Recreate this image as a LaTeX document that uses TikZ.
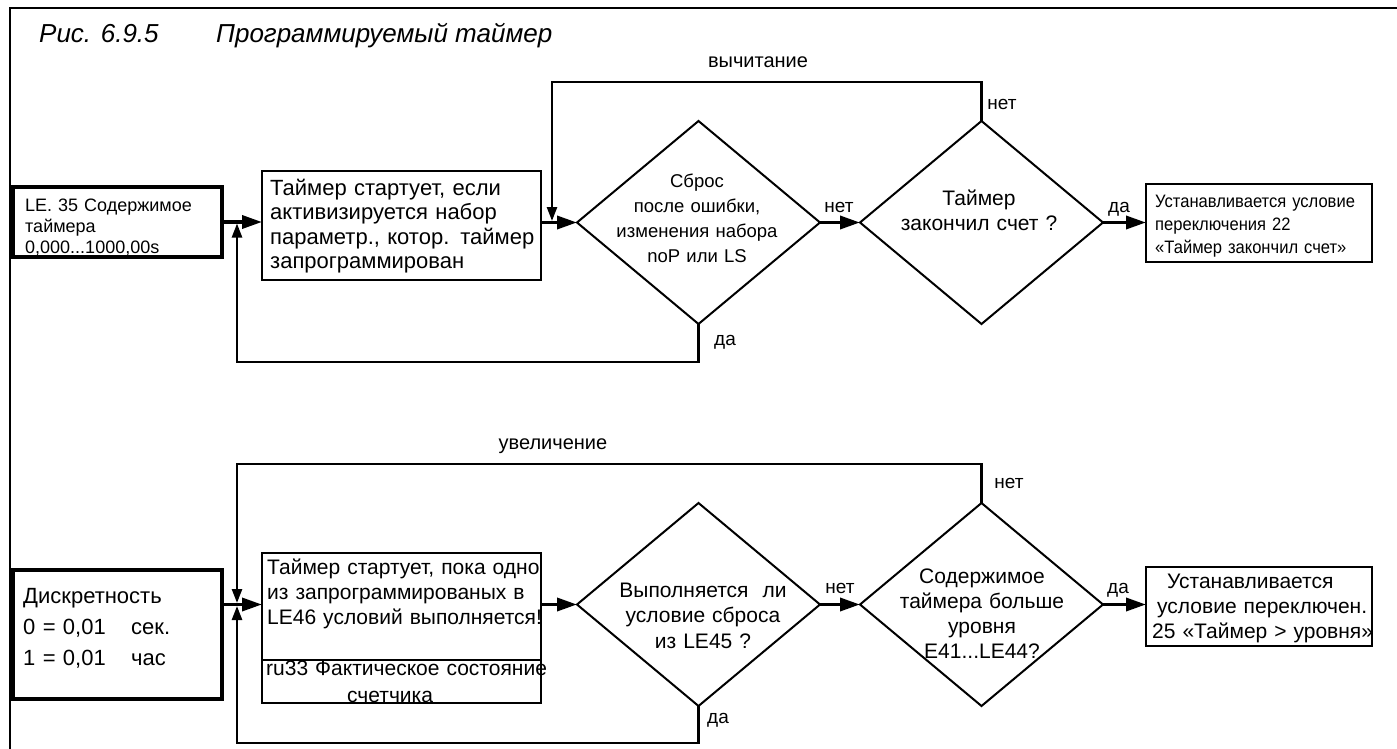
\documentclass[tikz,border=0pt]{standalone}
\usepackage{fontspec}
\setmainfont{Liberation Sans}
\newfontfamily\condfont[FakeStretch=0.92]{Liberation Sans}
\usetikzlibrary{shapes.geometric,arrows.meta}
\begin{document}
\begin{tikzpicture}[x=1pt,y=-1pt,
  frame/.style={line width=2.5pt},
  boxshape/.style={draw,line width=2.6pt,inner sep=0pt,outer sep=0pt},
  thickbox/.style={boxshape,line width=3.2pt},
  dia/.style={draw,diamond,line width=2pt,inner sep=0pt,outer sep=0pt,minimum width=243pt,minimum height=203pt},
  arr/.style={line width=3.5pt,-{Triangle[length=20pt,width=13pt]}},
  farr/.style={line width=2.5pt,-{Triangle[length=14pt,width=10pt]},shorten >=1.5pt},
  txt/.style={inner sep=0pt,anchor=base west,text width=320pt,align=left},
  ctxt/.style={inner sep=0pt,anchor=base,text width=260pt,align=center},
  lbl/.style={inner sep=0pt,anchor=base,font=\fontsize{19}{22}\selectfont},
  biglbl/.style={lbl,font=\fontsize{20}{24}\selectfont},
  ttl/.style={inner sep=0pt,anchor=base west,font=\itshape\fontsize{26}{30}\selectfont}
]
\useasboundingbox (0,0) rectangle (1397,749);
\draw[frame] (10,749) -- (10,8) -- (1397,8);

\node[ttl] (tnum) at (39,43) {Рис. 6.9.5};
\node[ttl] (tname) at (216,43) {Программируемый таймер};

% ---------- top row ----------
\node[thickbox,minimum width=209pt,minimum height=70pt] (A) at (117.5,222) {};
\node[txt,font=\fontsize{18}{21}\selectfont] (At) at (25,211) {LE. 35 Содержимое\\таймера\\0,000...1000,00s};
\node[boxshape,minimum width=279pt,minimum height=109pt] (B) at (401.5,225.5) {};
\node[txt,font=\fontsize{22}{24.5}\selectfont] (Bt) at (270,195) {Таймер стартует, если\\активизируется набор\\параметр., котор. таймер\\запрограммирован};
\node[dia] (d1) at (698.5,222.5) {};
\node[ctxt,font=\fontsize{18.5}{25}\selectfont] (d1t) at (697,187) {Сброс\\после ошибки,\\изменения набора\\noP или LS};
\node[dia] (d2) at (981.5,222.5) {};
\node[ctxt,font=\fontsize{21}{25}\selectfont] (d2t) at (979,205) {Таймер\\закончил счет ?};
\node[boxshape,minimum width=226pt,minimum height=78pt] (C) at (1259,223) {};
\node[txt,font=\condfont\fontsize{18}{23}\selectfont] (Ct) at (1155,207) {Устанавливается условие\\переключения 22\\«Таймер закончил счет»};

\draw[arr] (A.east) -- (A.east -| B.west);
\draw[arr] (d1.west -| B.east) -- (d1.west);
\draw[arr] (d1.east) -- (d2.west);
\draw[arr] (d2.east) -- (d2.east -| C.west);
\coordinate (lt) at (552,82);
\draw[farr] (d2.north) |- (lt) -- (lt |- d1.west);
\coordinate (lb) at (237,362);
\draw[farr] (d1.south) |- (lb) -- (lb |- A.east);

\node[lbl] (no1) at (839,212) {нет};
\node[lbl] (no2) at (1002,110) {нет};
\node[lbl] (yes1) at (725,345) {да};
\node[lbl] (yes2) at (1119,212) {да};
\node[biglbl] (sub) at (758,68) {вычитание};

% ---------- bottom row ----------
\node[thickbox,minimum width=209pt,minimum height=129pt] (F) at (117.5,634.5) {};
\node[txt,font=\fontsize{22}{31}\selectfont] (Ft) at (23,603) {Дискретность\\\makebox[108pt][l]{0 = 0,01}сек.\\\makebox[108pt][l]{1 = 0,01}час};
\node[boxshape,minimum width=279pt,minimum height=107pt] (D) at (401.5,606.5) {};
\node[boxshape,minimum width=279pt,minimum height=43pt] (Db) at (401.5,681.5) {};
\node[txt,font=\fontsize{21}{25}\selectfont] (Dt) at (267,574) {Таймер стартует, пока одно\\из запрограммированых в\\LE46 условий выполняется!};
\node[txt,font=\fontsize{21}{27}\selectfont] (Dbt) at (266,675) {ru33 Фактическое состояние\\\hspace*{81pt}счетчика};
\node[dia] (d3) at (698.5,604.5) {};
\node[ctxt,font=\fontsize{21}{25.5}\selectfont] (d3t) at (703,597) {Выполняется\ \ ли\\условие сброса\\из LE45 ?};
\node[dia] (d4) at (981.5,604.5) {};
\node[ctxt,font=\fontsize{21}{25}\selectfont] (d4t) at (982,583) {Содержимое\\таймера больше\\уровня\\E41...LE44?};
\node[boxshape,minimum width=226pt,minimum height=79pt] (E) at (1259,606.5) {};
\node[txt,font=\fontsize{21}{25}\selectfont] (Et) at (1152,588) {\hspace*{15pt}Устанавливается\\\hspace*{5pt}условие переключен.\\25 «Таймер > уровня»};

\draw[arr] (F.east |- d3.west) -- (D.west |- d3.west);
\draw[arr] (D.east |- d3.west) -- (d3.west);
\draw[arr] (d3.east) -- (d4.west);
\draw[arr] (d4.east) -- (d4.east -| E.west);
\coordinate (ut) at (237,464);
\draw[farr] (d4.north) |- (ut) -- (ut |- d3.west);
\coordinate (ub) at (237,743);
\draw[farr] (d3.south) |- (ub) -- (ub |- d3.west);

\node[lbl] (no3) at (840,593) {нет};
\node[lbl] (no4) at (1009,488) {нет};
\node[lbl] (yes3) at (718,723) {да};
\node[lbl] (yes4) at (1118,593) {да};
\node[biglbl] (inc) at (553,449) {увеличение};
\end{tikzpicture}
\end{document}
